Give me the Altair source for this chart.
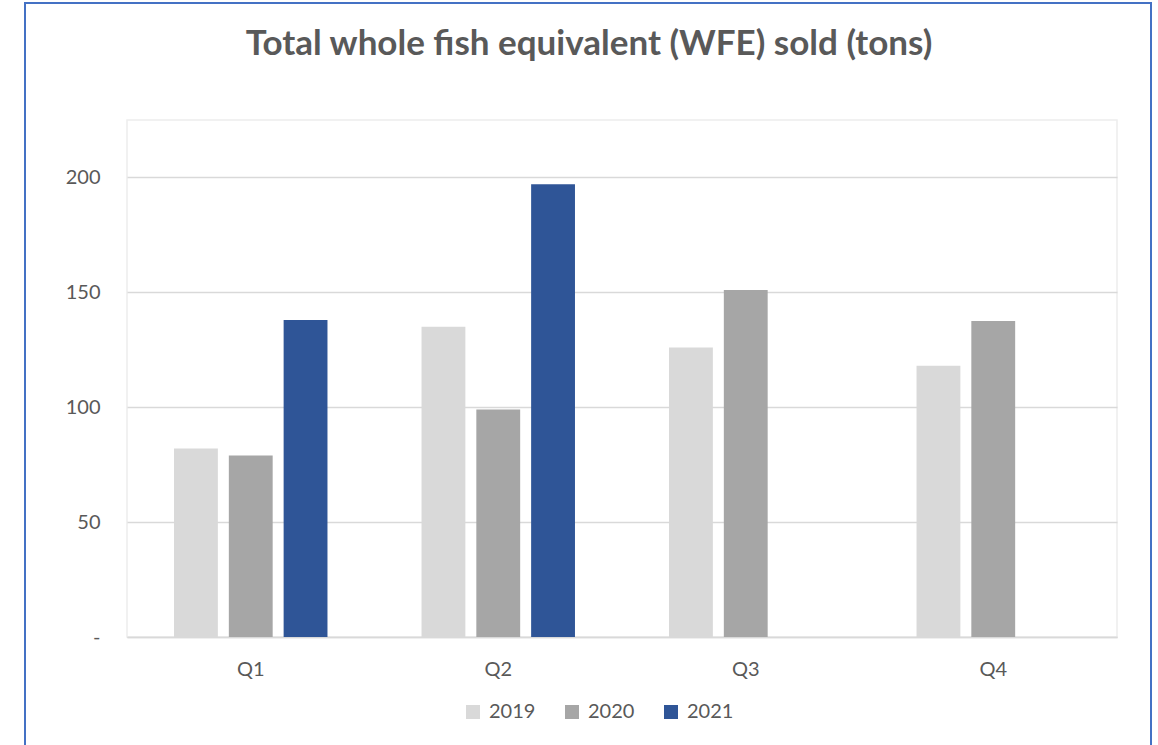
import altair as alt
import pandas as pd

quarters = ["Q1", "Q2", "Q3", "Q4"]
years = ["2019", "2020", "2021"]
v2019 = [82, 135, 126, 118]
v2020 = [79, 99, 151, 137.5]
v2021 = [138, 197, None, None]

rows = []
for i, q in enumerate(quarters):
    for y, vals in zip(years, [v2019, v2020, v2021]):
        if vals[i] is not None:
            rows.append({"quarter": q, "year": y, "value": vals[i]})
df = pd.DataFrame(rows)

TXT = "#595959"
FONT = "Lato"

bars = alt.Chart(df).mark_bar().encode(
    x=alt.X("quarter:N", sort=quarters, title=None,
            scale=alt.Scale(paddingInner=0.38, paddingOuter=0.19),
            axis=alt.Axis(labelAngle=0, ticks=False, domainColor="#D9D9D9", domainWidth=1.5,
                          labelFontSize=20, labelColor=TXT, labelFont=FONT, labelPadding=22,
                          grid=False)),
    xOffset=alt.XOffset("year:N", sort=years, scale=alt.Scale(paddingInner=0.2, paddingOuter=0)),
    y=alt.Y("value:Q", title=None,
            scale=alt.Scale(domain=[0, 225], nice=False),
            axis=alt.Axis(values=[0, 50, 100, 150, 200], domain=False, ticks=False,
                          labelFontSize=20, labelColor=TXT, labelFont=FONT, labelPadding=27,
                          gridColor="#D9D9D9", gridWidth=1.5,
                          labelExpr="datum.value == 0 ? '-' : datum.label")),
    color=alt.Color("year:N", sort=years,
                    scale=alt.Scale(domain=years, range=["#D9D9D9", "#A6A6A6", "#2F5597"]),
                    legend=alt.Legend(title=None, orient="none", direction="horizontal",
                                      legendX=336, legendY=582, symbolType="square",
                                      symbolSize=196, symbolStrokeWidth=0, labelFontSize=20,
                                      labelColor=TXT, labelFont=FONT, labelOffset=6,
                                      columnPadding=26, padding=0)),
)

frame = alt.Chart(df).mark_rect(fill=None, stroke="#4472C4", strokeWidth=1.5).encode(
    x=alt.value(-102), x2=alt.value(1024), y=alt.value(-117), y2=alt.value(660)
)

chart = alt.layer(bars, frame).properties(
    width=990, height=517,
    title=alt.TitleParams("Total whole fish equivalent (WFE) sold (tons)", fontSize=35,
                          font=FONT, fontWeight="bold", color=TXT, anchor="middle",
                          baseline="alphabetic", dx=-33, offset=-88),
    padding={"left": 127, "top": 120, "right": 41, "bottom": 108},
    autosize=alt.AutoSizeParams(type="none"),
).configure_view(stroke="#EDEDED", strokeWidth=1.5)

chart.save("out.html", embed_options={"renderer": "svg", "actions": False})
